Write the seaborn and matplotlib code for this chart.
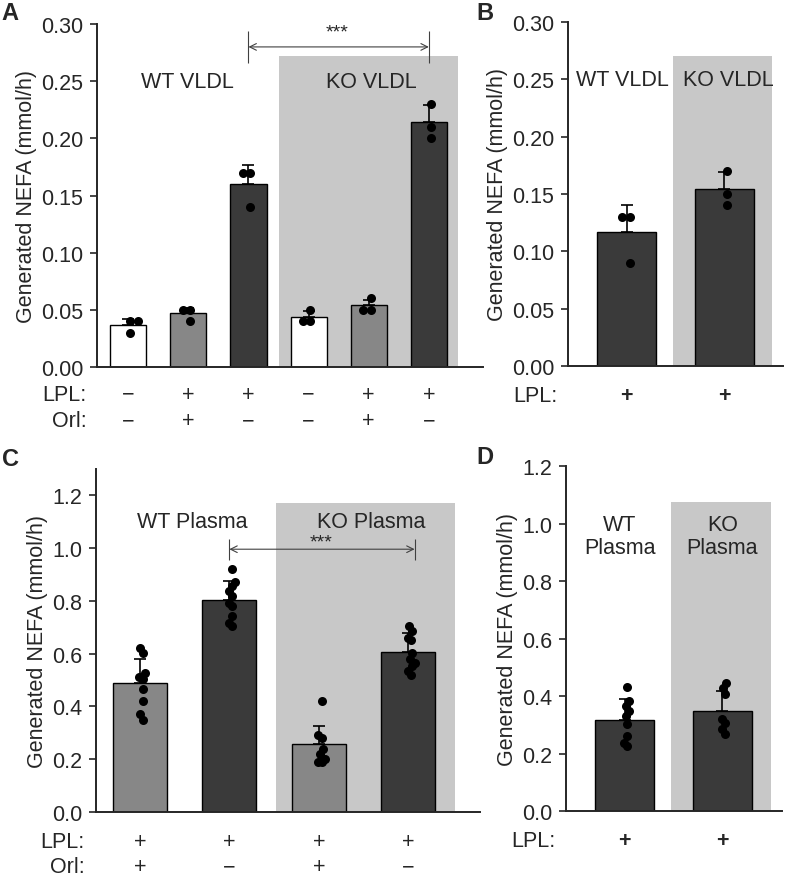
import numpy as np
import pandas as pd
import matplotlib
matplotlib.use('Agg')
import matplotlib.pyplot as plt
from matplotlib.ticker import FormatStrFormatter
import seaborn as sns

# panel A: VLDL, LPL +/- orlistat
a_cond = ['WT a', 'WT b', 'WT c', 'KO a', 'KO b', 'KO c']
a_mean = [0.037, 0.047, 0.160, 0.044, 0.054, 0.214]
a_top = [0.042, 0.052, 0.177, 0.049, 0.059, 0.229]
a_pts = [[0.040, 0.040, 0.030], [0.050, 0.050, 0.040], [0.170, 0.170, 0.140],
         [0.050, 0.040, 0.040], [0.060, 0.050, 0.050], [0.230, 0.210, 0.200]]
a_lpl = ['\u2212', '+', '+', '\u2212', '+', '+']
a_orl = ['\u2212', '+', '\u2212', '\u2212', '+', '\u2212']
a_col = ['#ffffff', '#878787', '#3a3a3a', '#ffffff', '#878787', '#3a3a3a']

# panel B: VLDL, LPL only
b_cond = ['WT', 'KO']
b_mean = [0.117, 0.154]
b_top = [0.140, 0.169]
b_pts = [[0.130, 0.130, 0.090], [0.170, 0.150, 0.140]]

# panel C: plasma
c_cond = ['WT a', 'WT b', 'KO a', 'KO b']
c_mean = [0.490, 0.805, 0.258, 0.608]
c_top = [0.580, 0.875, 0.327, 0.678]
c_pts = [[0.622, 0.603, 0.528, 0.513, 0.503, 0.465, 0.421, 0.371, 0.348],
         [0.920, 0.870, 0.855, 0.836, 0.817, 0.792, 0.779, 0.741, 0.716, 0.706],
         [0.420, 0.290, 0.280, 0.240, 0.220, 0.200, 0.190, 0.190],
         [0.704, 0.685, 0.660, 0.653, 0.603, 0.578, 0.565, 0.553, 0.534, 0.521]]
c_lpl = ['+', '+', '+', '+']
c_orl = ['+', '\u2212', '+', '\u2212']
c_col = ['#878787', '#3a3a3a', '#878787', '#3a3a3a']

# panel D: plasma, LPL only
d_cond = ['WT', 'KO']
d_mean = [0.317, 0.348]
d_top = [0.388, 0.417]
d_pts = [[0.431, 0.383, 0.365, 0.348, 0.330, 0.301, 0.261, 0.238, 0.226],
         [0.446, 0.429, 0.406, 0.319, 0.307, 0.284, 0.267]]

sns.set_style('ticks')
plt.rcParams['font.family'] = ['Liberation Sans', 'DejaVu Sans']
FS = 15.5
SHADE = '#c8c8c8'

swarms = []  # (collection, squeeze) pairs, tightened after the first draw


def bar_panel(ax, cond, mean, top, pts, colors, ylim, yticks, fmt, squeeze=0.5):
    summ = pd.DataFrame({'cond': cond, 'mean': mean})
    long = pd.DataFrame([(c, v) for c, vs in zip(cond, pts) for v in vs],
                        columns=['cond', 'val'])
    sns.barplot(data=summ, x='cond', y='mean', hue='cond', order=cond,
                palette=dict(zip(cond, colors)), edgecolor='black', linewidth=1,
                width=0.6, legend=False, ax=ax, zorder=2)
    x = np.arange(len(cond))
    ax.errorbar(x, mean, yerr=[np.zeros(len(cond)), np.array(top) - np.array(mean)],
                fmt='none', ecolor='black', elinewidth=1.2, capsize=4.5,
                capthick=1.2, zorder=3)
    n_before = len(ax.collections)
    sns.swarmplot(data=long, x='cond', y='val', order=cond, color='black',
                  size=6.5, ax=ax, zorder=5)
    for coll in ax.collections[n_before:]:
        swarms.append((coll, squeeze))
    ax.set_ylim(*ylim)
    ax.set_yticks(yticks)
    ax.yaxis.set_major_formatter(FormatStrFormatter(fmt))
    ax.set_xticks([])
    ax.set_xlabel('')
    ax.set_ylabel('Generated NEFA (mmol/h)', fontsize=FS, labelpad=3)
    ax.tick_params(axis='y', labelsize=FS, length=5, width=1.2, pad=5,
                   direction='out')
    for s in ['top', 'right']:
        ax.spines[s].set_visible(False)
    for s in ['left', 'bottom']:
        ax.spines[s].set_linewidth(1.4)


def shade(ax, x0, x1, top):
    ax.fill_between([x0, x1], 0, top, color=SHADE, lw=0, zorder=0)


def row_labels(ax, labels, y, name, xname, bold=False):
    tr = ax.get_xaxis_transform()
    for i, s in enumerate(labels):
        ax.text(i, y, s, transform=tr, ha='center', va='center', fontsize=FS,
                fontweight='bold' if bold else 'normal', clip_on=False)
    ax.text(xname, y, name, transform=ax.transAxes, ha='right', va='center',
            fontsize=FS)


def sig_arrow(ax, x0, x1, y, h, sy, sx):
    ax.annotate('', xy=(x1, y), xytext=(x0, y),
                arrowprops=dict(arrowstyle='<->', lw=0.8, color='0.25',
                                shrinkA=0, shrinkB=0, mutation_scale=12))
    ax.vlines([x0, x1], y - h, y + h, color='0.25', lw=0.8)
    ax.text(sx, sy, '***', ha='center', va='center', fontsize=14)


fig = plt.figure(figsize=(7.86, 8.79), dpi=100)
axA = fig.add_axes([0.1234, 0.5813, 0.491, 0.3902])
axB = fig.add_axes([0.7226, 0.5825, 0.2735, 0.3914])
axC = fig.add_axes([0.1221, 0.0751, 0.4885, 0.3902])
axD = fig.add_axes([0.7200, 0.0762, 0.2748, 0.3925])

# A
bar_panel(axA, a_cond, a_mean, a_top, a_pts, a_col, (0, 0.30),
          np.arange(0, 0.301, 0.05), '%.2f', squeeze=0.8)
shade(axA, 2.5, 5.48, 0.272)
axA.set_xlim(-0.52, 5.9)
axA.text(0.98, 0.25, 'WT VLDL', ha='center', va='center', fontsize=FS)
axA.text(4.05, 0.25, 'KO VLDL', ha='center', va='center', fontsize=FS)
sig_arrow(axA, 2, 5, 0.28, 0.014, 0.293, 3.48)
row_labels(axA, a_lpl, -0.079, 'LPL:', -0.026)
row_labels(axA, a_orl, -0.157, 'Orl:', -0.026)

# B
bar_panel(axB, b_cond, b_mean, b_top, b_pts, ['#3a3a3a'] * 2, (0, 0.30),
          np.arange(0, 0.301, 0.05), '%.2f', squeeze=0.8)
shade(axB, 0.47, 1.49, 0.27)
axB.set_xlim(-0.6, 1.6)
axB.text(-0.04, 0.25, 'WT VLDL', ha='center', va='center', fontsize=FS)
axB.text(1.04, 0.25, 'KO VLDL', ha='center', va='center', fontsize=FS)
row_labels(axB, ['+', '+'], -0.087, 'LPL:', -0.05, bold=True)

# C
bar_panel(axC, c_cond, c_mean, c_top, c_pts, c_col, (0, 1.3),
          np.arange(0, 1.21, 0.2), '%.1f', squeeze=0.35)
shade(axC, 1.52, 3.52, 1.17)
axC.set_xlim(-0.49, 3.8)
axC.text(0.59, 1.10, 'WT Plasma', ha='center', va='center', fontsize=FS)
axC.text(2.58, 1.10, 'KO Plasma', ha='center', va='center', fontsize=FS)
sig_arrow(axC, 1, 3.07, 0.996, 0.04, 1.025, 2.03)
row_labels(axC, c_lpl, -0.087, 'LPL:', -0.029)
row_labels(axC, c_orl, -0.16, 'Orl:', -0.029)

# D
bar_panel(axD, d_cond, d_mean, d_top, d_pts, ['#3a3a3a'] * 2, (0, 1.2),
          np.arange(0, 1.21, 0.2), '%.1f', squeeze=0.35)
shade(axD, 0.48, 1.5, 1.075)
axD.set_xlim(-0.6, 1.61)
axD.text(-0.05, 0.957, 'WT\nPlasma', ha='center', va='center', fontsize=FS,
         linespacing=1.1)
axD.text(1.0, 0.957, 'KO\nPlasma', ha='center', va='center', fontsize=FS,
         linespacing=1.1)
row_labels(axD, ['+', '+'], -0.084, 'LPL:', -0.05, bold=True)

for lab, x, y in [('A', 0.002, 0.998), ('B', 0.606, 0.998),
                  ('C', 0.002, 0.49), ('D', 0.606, 0.493)]:
    fig.text(x, y, lab, ha='left', va='top', fontsize=17, fontweight='bold')

# seaborn lays the swarm out at draw time; draw once, freeze, then pull the
# dots in towards the bar centre (the reference has a tight column)
fig.canvas.draw()
for coll, squeeze in swarms:
    coll.__dict__.pop('draw', None)
    off = np.array(coll.get_offsets())
    if len(off) == 0:
        continue
    cx = np.round(off[:, 0])
    off[:, 0] = cx + (off[:, 0] - cx) * squeeze + 0.03
    coll.set_offsets(off)

fig.savefig('out.png', dpi=100)
